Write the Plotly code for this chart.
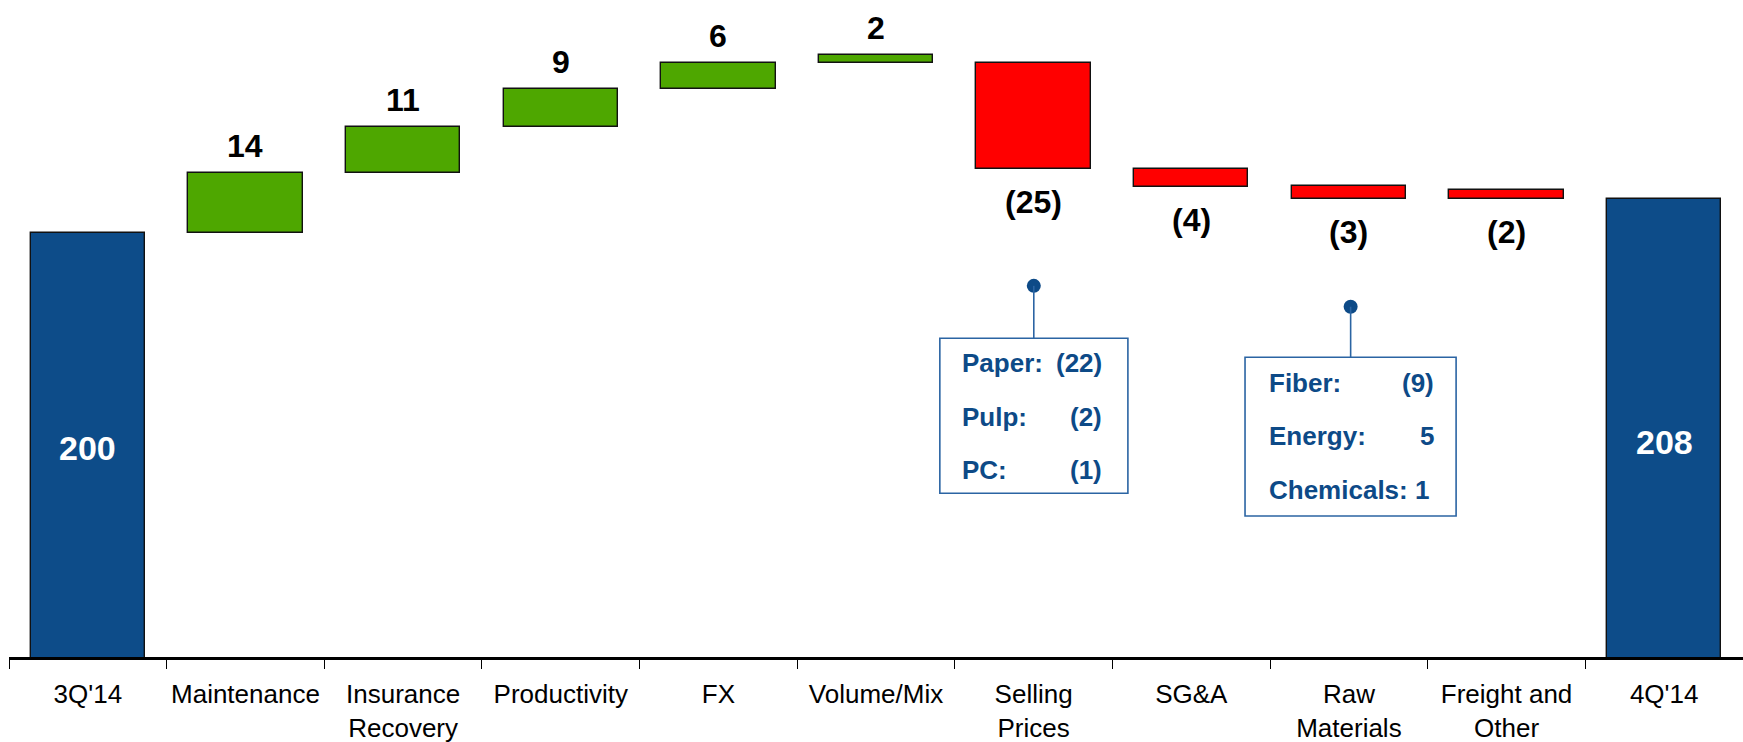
import plotly.graph_objects as go

# ---- data ----
categories = ["3Q'14", "Maintenance", "Insurance<br>Recovery", "Productivity", "FX",
              "Volume/Mix", "Selling<br>Prices", "SG&A", "Raw<br>Materials",
              "Freight and<br>Other", "4Q'14"]
value_labels = ["200", "14", "11", "9", "6", "2", "(25)", "(4)", "(3)", "(2)", "208"]
bar_from = [0, 200.0, 213.9, 224.8, 233.7, 239.7, 239.7, 214.8, 211.0, 209.9, 0]
bar_to = [200.0, 213.9, 224.8, 233.7, 239.7, 241.6, 214.8, 210.7, 207.8, 207.8, 207.8]
bar_kind = ["total", "up", "up", "up", "up", "up", "down", "down", "down", "down", "total"]

selling_detail_names = ["Paper:", "Pulp:", "PC:"]
selling_detail_values = ["(22)", "(2)", "(1)"]
raw_detail_names = ["Fiber:", "Energy:", "Chemicals: 1"]
raw_detail_values = ["(9)", "5", ""]

# ---- styling ----
COLORS = {"total": "#0D4C89", "up": "#4EA700", "down": "#FF0000"}
NAVY = "#0D4A87"
BOX_LINE = "#2B64A3"
FONT = "Liberation Sans, Arial, sans-serif"

Y_MIN, Y_MAX = 100.5, 254.5
TOTAL_LABEL_Y = {0: 149.4, 10: 150.9}

fig = go.Figure()
fig.add_trace(go.Bar(
    x=list(range(len(categories))),
    y=[t - f for f, t in zip(bar_from, bar_to)],
    base=bar_from,
    width=0.725,
    marker=dict(color=[COLORS[k] for k in bar_kind], line=dict(color="#111111", width=1.4)),
    hoverinfo="skip",
))

annotations = []
for i, (lab, kind) in enumerate(zip(value_labels, bar_kind)):
    if kind == "total":
        annotations.append(dict(x=i, y=TOTAL_LABEL_Y[i], text=f"<b>{lab}</b>", showarrow=False,
                                yanchor="middle",
                                font=dict(family=FONT, size=34, color="white")))
    elif kind == "up":
        annotations.append(dict(x=i, y=bar_to[i], text=f"<b>{lab}</b>", showarrow=False,
                                yanchor="middle", yshift=27,
                                font=dict(family=FONT, size=32, color="black")))
    else:
        annotations.append(dict(x=i, y=bar_to[i], text=f"<b>{lab}</b>", showarrow=False,
                                yanchor="middle", yshift=-33,
                                font=dict(family=FONT, size=32, color="black")))

# callout boxes
shapes = []
def callout(x0, x1, y0, y1, dot_x, dot_y, names, vals, text_x, val_x, line_ys):
    shapes.append(dict(type="rect", xref="x", yref="y", x0=x0, x1=x1, y0=y0, y1=y1,
                       line=dict(color=BOX_LINE, width=1.6), fillcolor="white", layer="above"))
    shapes.append(dict(type="line", xref="x", yref="y", x0=dot_x, x1=dot_x, y0=y1, y1=dot_y,
                       line=dict(color=BOX_LINE, width=1.6)))
    for n, v, yy in zip(names, vals, line_ys):
        annotations.append(dict(x=text_x, y=yy, text=f"<b>{n}</b>", showarrow=False,
                                xanchor="left", yanchor="middle",
                                font=dict(family=FONT, size=26, color=NAVY)))
        if v:
            annotations.append(dict(x=val_x, y=yy, text=f"<b>{v}</b>", showarrow=False,
                                    xanchor="right", yanchor="middle",
                                    font=dict(family=FONT, size=26, color=NAVY)))
    return (dot_x, dot_y)

dot1 = callout(5.405, 6.598, 138.9, 175.2, 6.001, 187.5, selling_detail_names, selling_detail_values,
               5.530, 6.446, [169.4, 156.8, 144.3])
dot2 = callout(7.341, 8.680, 133.55, 170.75, 8.011, 182.6, raw_detail_names, raw_detail_values,
               7.482, 8.553, [164.8, 152.3, 139.6])

fig.add_trace(go.Scatter(x=[dot1[0], dot2[0]], y=[dot1[1], dot2[1]], mode="markers",
                         marker=dict(color=NAVY, size=14), hoverinfo="skip", cliponaxis=False))

fig.update_layout(
    width=1743, height=742,
    margin=dict(l=9, r=0, t=0, b=85),
    paper_bgcolor="white", plot_bgcolor="white",
    showlegend=False,
    bargap=0,
    annotations=annotations,
    shapes=shapes,
)
fig.update_xaxes(
    range=[-0.5, 10.5],
    tickmode="array",
    tickvals=list(range(len(categories))),
    ticktext=categories,
    tickangle=0,
    automargin=False,
    showline=True, linecolor="black", linewidth=2.5,
    ticks="", showgrid=False, zeroline=False,
    ticklabelstandoff=12,
    tickfont=dict(family=FONT, size=26, color="black"),
)
fig.update_xaxes(minor=dict(tickmode="array", tickvals=[i - 0.5 for i in range(len(categories) + 1)],
                            ticks="outside", ticklen=9, tickwidth=1.2, tickcolor="black", showgrid=False))
fig.update_yaxes(range=[Y_MIN, Y_MAX], visible=False, showgrid=False, zeroline=False)

fig.write_html("out.html", config={"displayModeBar": False})
